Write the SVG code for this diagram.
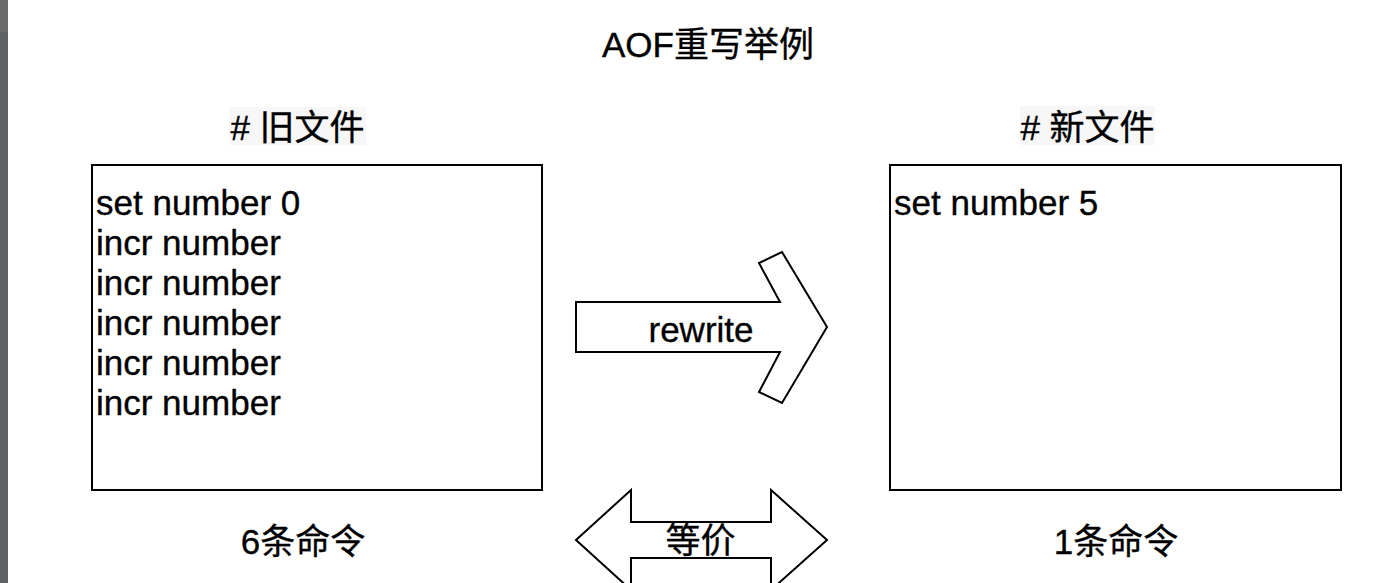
<svg xmlns="http://www.w3.org/2000/svg" width="1389" height="583" viewBox="0 0 1389 583">
<style>
.t{font-family:"Liberation Sans","Noto Sans CJK SC",sans-serif;font-size:35px;fill:#000;stroke:#000;stroke-width:0.35}
.c{text-anchor:middle}
.box{fill:#fff;stroke:#000;stroke-width:2}
.shape{fill:#fff;stroke:#000;stroke-width:2;stroke-linejoin:miter}
</style>
<rect x="0" y="0" width="1389" height="583" fill="#fff"/>
<rect x="0" y="0" width="8" height="32" fill="#6b6b6b"/>
<rect x="0" y="32" width="8" height="551" fill="#5f6061"/>
<g id="title">
<text class="t c" x="708" y="57">AOF重写举例</text>
</g>
<g id="old-label">
<rect x="229" y="107" width="137" height="38" fill="#f7f7f7"/>
<text class="t c" x="297.5" y="140">#&#160;旧文件</text>
</g>
<g id="new-label">
<rect x="1020" y="106" width="135" height="39" fill="#f7f7f7"/>
<text class="t c" x="1087.5" y="140">#&#160;新文件</text>
</g>
<g id="old-file">
<rect class="box" x="92" y="165" width="450" height="325"/>
<text class="t" x="96" y="215">set number 0</text>
<text class="t" x="96" y="255">incr number</text>
<text class="t" x="96" y="295">incr number</text>
<text class="t" x="96" y="335">incr number</text>
<text class="t" x="96" y="375">incr number</text>
<text class="t" x="96" y="415">incr number</text>
</g>
<g id="new-file">
<rect class="box" x="890" y="165" width="451" height="325"/>
<text class="t" x="894" y="215">set number 5</text>
</g>
<g id="old-count">
<text class="t c" x="303" y="554">6条命令</text>
</g>
<g id="new-count">
<text class="t c" x="1116" y="554">1条命令</text>
</g>
<g id="connectors">
<g id="rewrite-arrow">
<path class="shape" d="M576,302 L780,302 L759,263 L782,252 L827,327 L782,403 L759,392 L780,352 L576,352 Z"/>
<text class="t c" x="701" y="342">rewrite</text>
</g>
<g id="equiv-arrow">
<path class="shape" d="M576,540 L631,490 L631,522 L771,522 L771,490 L827,540 L771,590 L771,558 L631,558 L631,590 Z"/>
<text class="t c" x="700.5" y="553">等价</text>
</g>
</g>
</svg>
